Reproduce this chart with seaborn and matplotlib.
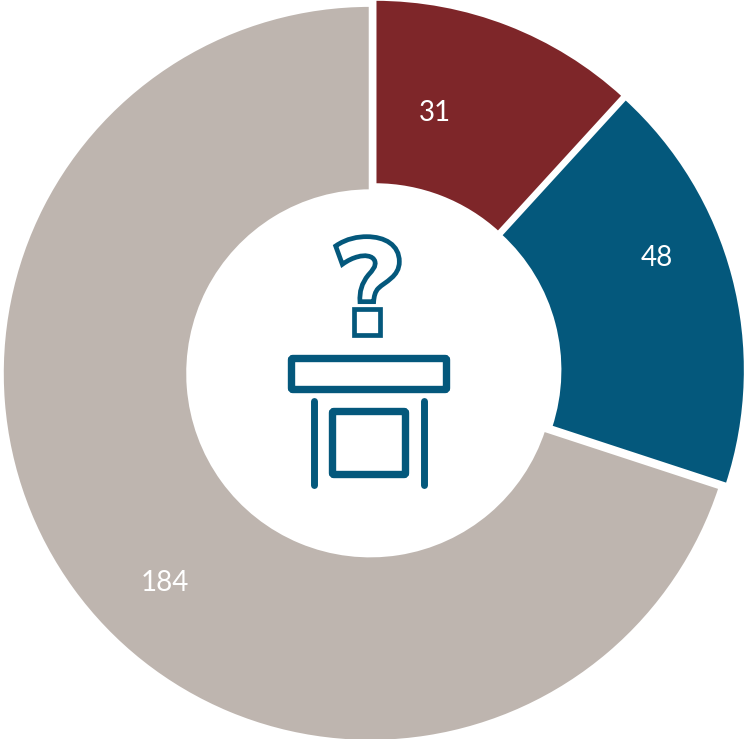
import matplotlib
matplotlib.use("Agg")
import matplotlib.pyplot as plt
import seaborn as sns
from matplotlib.patches import FancyBboxPatch, PathPatch, Rectangle
from matplotlib.path import Path

# Slices, clockwise from 12 o'clock
values = [31, 48, 184]
labels = ["31", "48", "184"]
colors = ["#7E2629", "#04587C", "#BEB5AF"]
icon_color = "#04587C"

W, H = 744, 739
sns.set_theme(style="white")
plt.rcParams['font.family'] = ['Lato', 'DejaVu Sans']

fig = plt.figure(figsize=(W / 100, H / 100), dpi=100)
ax = fig.add_axes([0, 0, 1, 1])

radius = 368
palette = sns.color_palette(colors)
# explode is in data units here, and the axes are in pixels
ax.pie(
    values,
    colors=palette,
    startangle=90,
    counterclock=False,
    radius=radius,
    center=(373.5, H - 371),
    explode=[4, 4, 4],
    frame=True,
    wedgeprops=dict(width=radius - 182.5, edgecolor="white", linewidth=2.2),
)
ax.set_xlim(0, W)
ax.set_ylim(0, H)
ax.set_aspect("equal")
ax.axis("off")

# Value labels
label_pos = [(435, 113), (657, 258), (165, 583)]
for lab, (x, y) in zip(labels, label_pos):
    ax.text(x, H - y, lab, color="white", fontsize=20, ha="center", va="center")

# Icon drawn in pixel coordinates on a top-down overlay
ov = fig.add_axes([0, 0, 1, 1])
ov.set_xlim(0, W)
ov.set_ylim(H, 0)
ov.axis("off")
ov.patch.set_alpha(0)


def zp(x, y):
    return 270 + x / 3, 220 + y / 3


q_pts = [
    (197, 78),
    (230, 55), (265, 50), (290, 50),
    (345, 50), (388, 75), (388, 125),
    (388, 170), (345, 185), (325, 205),
    (315, 215), (312, 230), (311, 245),
    (270, 245),
    (268, 215), (275, 190), (295, 165),
    (308, 150), (318, 140), (315, 125),
    (310, 105), (280, 105), (265, 110),
    (250, 113), (232, 122), (217, 133),
    (197, 78),
]
q_codes = [Path.MOVETO] + [Path.CURVE4] * 12 + [Path.LINETO] + [Path.CURVE4] * 12 + [Path.CLOSEPOLY]
ov.add_patch(PathPatch(Path([zp(*p) for p in q_pts], q_codes), fc="white", ec=icon_color, lw=3.4, joinstyle="miter"))

# dot of the question mark
x0, y0 = zp(252, 268)
ov.add_patch(Rectangle((x0, y0), 26, 26, fc="white", ec=icon_color, lw=3.4, joinstyle="miter"))

# desk top, front box and legs
ov.add_patch(FancyBboxPatch((291.5, 358.5), 155, 31, boxstyle="round,pad=0,rounding_size=1.5",
                            fc="white", ec=icon_color, lw=5.3))
ov.add_patch(FancyBboxPatch((332.5, 411.5), 73, 63, boxstyle="round,pad=0,rounding_size=1.5",
                            fc="white", ec=icon_color, lw=5.3))
ov.plot([314, 314], [401, 485], color=icon_color, lw=5.0, solid_capstyle="round")
ov.plot([424, 424], [401, 485], color=icon_color, lw=5.0, solid_capstyle="round")

fig.savefig("out.png", dpi=100, facecolor="white")
